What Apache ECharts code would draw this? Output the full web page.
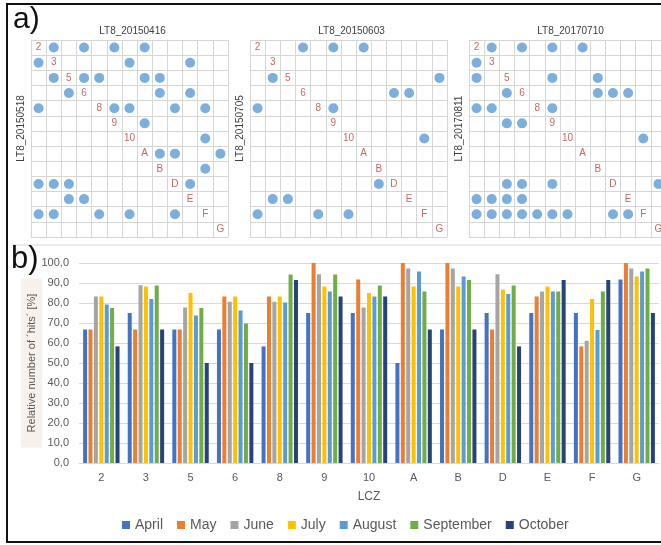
<!DOCTYPE html>
<html>
<head>
<meta charset="utf-8">
<script src="https://cdn.jsdelivr.net/npm/echarts@6/dist/echarts.min.js"></script>
<style>
html,body{margin:0;padding:0;background:#fff;}
#chart{width:661px;height:545px;}
</style>
</head>
<body>
<div id="chart"></div>
<script>
// ---- categories ----
const lcz = ['2','3','5','6','8','9','10','A','B','D','E','F','G'];
const months = ['April','May','June','July','August','September','October'];

// ---- panel b: relative number of hits [%] per LCZ ----
const april     = [66.7, 75.0, 66.7, 66.7, 58.3, 75.0, 75.0, 50.0, 66.7, 75.0, 75.0, 75.0, 91.7];
const may       = [66.7, 66.7, 66.7, 83.3, 83.3,100.0, 91.7,100.0,100.0, 66.7, 83.3, 58.3,100.0];
const june      = [83.3, 88.9, 77.8, 80.6, 80.6, 94.4, 77.8, 97.2, 97.2, 94.4, 85.8, 61.1, 97.2];
const july      = [83.3, 88.2, 85.0, 83.3, 83.3, 88.2, 85.0, 88.2, 88.2, 86.8, 88.2, 82.0, 93.2];
const august    = [79.2, 82.0, 73.7, 76.2, 80.3, 85.8, 83.3, 95.8, 93.2, 84.5, 85.8, 66.5, 95.8];
const september = [77.5, 88.8, 77.5, 69.7, 94.2, 94.2, 88.8, 85.8, 91.5, 88.8, 85.8, 85.8, 97.2];
const october   = [58.3, 66.7, 50.0, 50.0, 91.5, 83.3, 83.3, 66.7, 66.7, 58.3, 91.5, 91.5, 75.0];
const yTicks = [0,10,20,30,40,50,60,70,80,90,100];

// ---- panel a: matrix titles ----
const topDates  = ['LT8_20150416','LT8_20150603','LT8_20170710'];
const sideDates = ['LT8_20150518','LT8_20150705','LT8_20170811'];

// ---- panel a: dots per row (row LCZ -> list of column LCZ) ----
const m1Rows = [
  ['3','6','9','A'],
  ['2','10','E'],
  ['3','6','8','A','B'],
  ['5','B','E'],
  ['2','9','10','D','F'],
  ['A'],
  ['F'],
  ['B','D','G'],
  ['F'],
  ['2','3','5','E'],
  ['5','6'],
  ['2','3','8','10','D'],
  []
];
const m2Rows = [
  ['6','9','A'],
  [],
  ['3','G'],
  ['D','E'],
  ['2','9'],
  [],
  ['F'],
  [],
  [],
  ['B'],
  ['3','5'],
  ['2','8','10'],
  []
];
const m3Rows = [
  ['3','6','9','A'],
  ['2'],
  ['2','9','B'],
  ['5','B','D','E'],
  ['2','3','9'],
  ['5','6'],
  ['F'],
  [],
  [],
  ['5','6','9','G'],
  ['2','3','5','6'],
  ['2','3','5','6','8','9','10','D','E'],
  []
];

const FONT = 'Liberation Sans, Arial, sans-serif';
const monthColors = ['#4472C4','#ED7D31','#A5A5A5','#FFC000','#5B9BD5','#70AD47','#264478'];
const barData = [april, may, june, july, august, september, october];
const matrices = [m1Rows, m2Rows, m3Rows];
const matLeft = [31, 250, 469];
const MAT_TOP = 40, MAT_SIZE = 197;

const grids = [], xAxes = [], yAxes = [], series = [], titles = [];

matrices.forEach((rows, k) => {
  grids.push({left: matLeft[k], top: MAT_TOP, width: MAT_SIZE, height: MAT_SIZE, outerBoundsMode: 'none'});
  xAxes.push({
    type: 'category', gridIndex: k, data: lcz, boundaryGap: true,
    axisLabel: {show: false}, axisTick: {show: false},
    axisLine: {show: true, lineStyle: {color: '#d6d6d6', width: 1}},
    splitLine: {show: true, interval: 0, lineStyle: {color: '#d6d6d6', width: 1}}
  });
  yAxes.push({
    type: 'category', gridIndex: k, data: lcz, inverse: true, boundaryGap: true,
    axisLabel: {show: false}, axisTick: {show: false},
    axisLine: {show: true, lineStyle: {color: '#d6d6d6', width: 1}},
    splitLine: {show: true, interval: 0, lineStyle: {color: '#d6d6d6', width: 1}},
    name: sideDates[k], nameLocation: 'middle', nameGap: 5, nameRotate: 90, nameMoveOverlap: false,
    nameTextStyle: {fontSize: 10, color: '#404040', fontFamily: FONT, padding: [0,0,0,20]}
  });
  titles.push({
    text: topDates[k], left: matLeft[k] + MAT_SIZE / 2 - 2, top: 21, textAlign: 'center',
    textStyle: {fontSize: 10, fontWeight: 'normal', color: '#404040', fontFamily: FONT}
  });
  const pts = [];
  rows.forEach((cols, r) => cols.forEach(c => pts.push([c, lcz[r]])));
  series.push({
    type: 'scatter', xAxisIndex: k, yAxisIndex: k, data: pts,
    symbol: 'circle', symbolSize: 10, itemStyle: {color: '#5B9BD5'}, silent: true, z: 3
  });
  series.push({
    type: 'scatter', xAxisIndex: k, yAxisIndex: k, data: lcz.map(c => [c, c]),
    symbolSize: 0.1, itemStyle: {color: 'rgba(0,0,0,0)'}, silent: true, z: 4,
    label: {show: true, position: 'inside', formatter: p => p.value[0],
            color: '#B8413F', fontSize: 10, fontFamily: FONT}
  });
});

// ---- bar chart grid ----
const BI = 3;
grids.push({left: 79, right: 2, top: 263, height: 200, outerBoundsMode: 'none'});
xAxes.push({
  type: 'category', gridIndex: BI, data: lcz,
  axisTick: {show: false},
  axisLine: {show: true, lineStyle: {color: '#d9d9d9'}},
  axisLabel: {color: '#595959', fontSize: 11, margin: 9, fontFamily: FONT, interval: 0},
  name: 'LCZ', nameLocation: 'middle', nameGap: 28, nameMoveOverlap: false,
  nameTextStyle: {color: '#595959', fontSize: 12, fontFamily: FONT}
});
yAxes.push({
  type: 'value', gridIndex: BI, min: yTicks[0], max: yTicks[yTicks.length-1], interval: yTicks[1]-yTicks[0],
  axisLine: {show: false}, axisTick: {show: false},
  axisLabel: {color: '#595959', fontSize: 11, margin: 10, fontFamily: FONT,
              formatter: v => v.toFixed(1).replace('.', ',')},
  splitLine: {show: true, lineStyle: {color: '#d9d9d9'}},
  name: 'Relative number of \u00B4hits\u00B4 [%]', nameLocation: 'middle', nameGap: 37, nameRotate: 90,
  nameMoveOverlap: false,
  nameTextStyle: {color: '#595959', fontSize: 11, fontFamily: FONT,
                  backgroundColor: '#f6f1ed', padding: [5, 15, 5, 15]}
});
months.forEach((m, i) => {
  series.push({
    name: m, type: 'bar', xAxisIndex: BI, yAxisIndex: BI, data: barData[i],
    barWidth: 4, barGap: '35%', itemStyle: {color: monthColors[i]}, silent: true
  });
});

const chart = echarts.init(document.getElementById('chart'), null, {renderer: 'canvas'});
chart.setOption({
  animation: false,
  backgroundColor: '#ffffff',
  textStyle: {fontFamily: FONT},
  title: titles,
  grid: grids,
  xAxis: xAxes,
  yAxis: yAxes,
  legend: {
    data: months, left: 117, top: 513, icon: 'rect',
    itemWidth: 8, itemHeight: 8, itemGap: 14,
    textStyle: {color: '#595959', fontSize: 14, fontFamily: FONT}
  },
  series: series,
  graphic: [
    {type: 'rect', shape: {x: 7, y: 4, width: 720, height: 538},
     style: {fill: 'none', stroke: '#111', lineWidth: 2}, silent: true, z: 100},
    {type: 'line', shape: {x1: 13, y1: 245, x2: 661, y2: 245},
     style: {stroke: '#d9d9d9', lineWidth: 1}, silent: true},
    {type: 'text', x: 13, y: 20, style: {text: 'a)', fontSize: 30, fontFamily: FONT, fill: '#111',
      textVerticalAlign: 'middle'}, silent: true, z: 100},
    {type: 'text', x: 11, y: 259, style: {text: 'b)', fontSize: 31, fontFamily: FONT, fill: '#111',
      textVerticalAlign: 'middle'}, silent: true, z: 100}
  ]
});
</script>
</body>
</html>
